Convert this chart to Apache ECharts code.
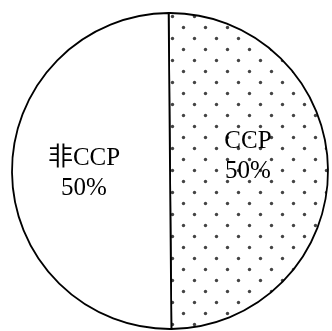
<!DOCTYPE html>
<html>
<head>
<meta charset="utf-8">
<script src="https://cdn.jsdelivr.net/npm/echarts@6/dist/echarts.min.js"></script>
<style>
  html, body { margin: 0; padding: 0; background: #fff; }
  #chart { width: 332px; height: 331px; }
</style>
</head>
<body>
<div id="chart"></div>
<script>
// Share of CCP vs non-CCP items
const categories = ['CCP', '非CCP'];
const values = [50, 50];

// Dotted fill: staggered grid of small dark dots
function dotPattern() {
  const c = document.createElement('canvas');
  c.width = 22; c.height = 22;
  const g = c.getContext('2d');
  g.fillStyle = '#fff';
  g.fillRect(0, 0, 22, 22);
  g.fillStyle = '#444';
  [[7.5, 5.5], [18.5, 16.5]].forEach(([x, y]) => {
    g.beginPath();
    g.arc(x, y, 1.7, 0, Math.PI * 2);
    g.fill();
  });
  return { image: c, repeat: 'repeat' };
}

const fills = [dotPattern(), '#ffffff'];
const labelOffsets = [[-4, -14], [-4, 2]];

const chart = echarts.init(document.getElementById('chart'), null, { renderer: 'canvas' });
chart.setOption({
  animation: false,
  backgroundColor: '#fff',
  series: [{
    type: 'pie',
    center: [170, 171],
    radius: 158,
    startAngle: 90.5,
    clockwise: true,
    silent: true,
    itemStyle: { borderColor: '#000', borderWidth: 1.8 },
    label: {
      show: true,
      position: 'inside',
      formatter: '{b}\n{d}%',
      color: '#000',
      fontSize: 25,
      lineHeight: 30,
      fontFamily: '"Liberation Serif", "Noto Sans CJK SC", serif',
      align: 'center'
    },
    labelLine: { show: false },
    data: categories.map((name, i) => ({
      name,
      value: values[i],
      itemStyle: { color: fills[i] },
      label: { offset: labelOffsets[i] }
    }))
  }]
});
</script>
</body>
</html>
